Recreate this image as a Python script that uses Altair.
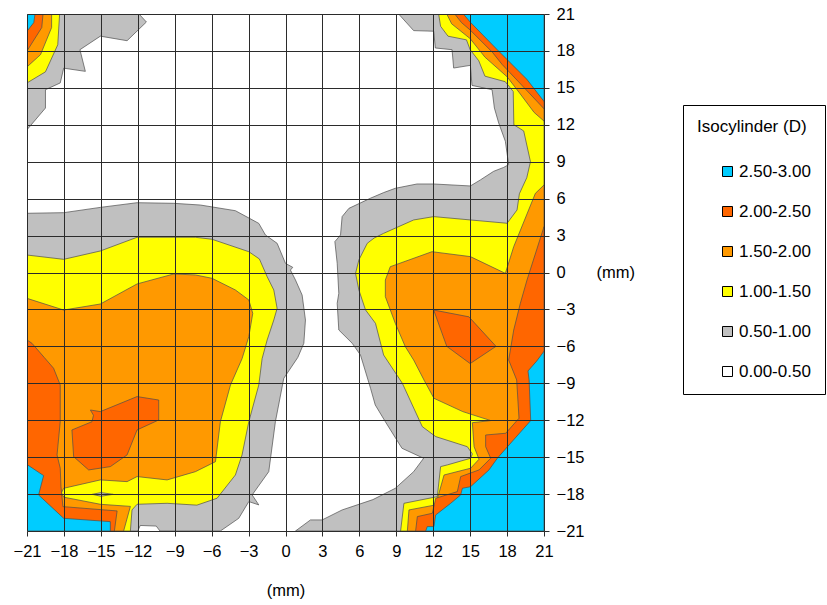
import altair as alt
import pandas as pd

# ---------------- data (mm coordinates) ----------------
LEVELS = ["2.50-3.00", "2.00-2.50", "1.50-2.00", "1.00-1.50", "0.50-1.00", "0.00-0.50"]
COLORS = ["#00ccff", "#ff6600", "#ff9900", "#ffff00", "#c0c0c0", "#ffffff"]
TICKS = list(range(-21, 22, 3))

# top-left corner bands
TL_GRAY = [(-21, 21), (-11.9, 21), (-11.3, 20.35), (-12.87, 18.83), (-15.04, 19.2), (-16.7, 18.1),
           (-16.26, 16.34), (-18.02, 16.6), (-18.3, 15.4), (-19.5, 14.85), (-19.5, 13.36), (-21, 11.6)]
TL_YELLOW = [(-21, 21), (-18.35, 21), (-18.5, 18.5), (-19.5, 16.3), (-21, 15.4)]
TL_ORANGE = [(-21, 21), (-19.0, 21), (-19.0, 19.9), (-19.9, 17.7), (-21, 16.7)]
TL_DARK = [(-21, 21), (-19.7, 21), (-19.8, 19.9), (-21, 18.0)]
TL_CYAN = [(-21, 21), (-20.35, 21), (-20.45, 20.3), (-21, 19.6)]

# left blob + bottom-left corner
LEFT_GRAY = [(-21, 4.81), (-18.02, 4.86), (-15.04, 5.29), (-12.06, 5.67), (-9.08, 5.62), (-6.91, 5.48),
             (-4.07, 5.02), (-2.17, 3.99), (-1.63, 3.05), (-0.68, 2.37), (0.0, 0.74), (0.59, 0.42),
             (0.4, 0.2), (0.81, -0.61), (1.35, -1.83), (1.62, -3.86), (1.49, -5.75), (1.0, -6.9),
             (-0.14, -8.6), (-0.82, -12.12), (-1.36, -16.18), (-2.71, -18.07), (-2.17, -18.88),
             (-2.98, -18.61), (-3.8, -19.97), (-5.29, -21), (-10.2, -21), (-10.5, -20.6),
             (-11.8, -20.55), (-12.0, -21), (-21, -21)]
LEFT_YELLOW = [(-21, 1.42), (-18.02, 1.07), (-15.04, 1.75), (-12.06, 2.86), (-9.08, 2.86), (-7.32, 2.86),
               (-5.97, 2.7), (-2.98, 1.69), (-2.12, 1.1), (-1.49, -0.34), (-0.95, -1.42), (-0.68, -2.91),
               (-0.95, -3.86), (-1.49, -5.48), (-1.9, -7.0), (-2.17, -9.14), (-2.98, -12.12),
               (-3.53, -14.82), (-4.07, -16.45), (-5.56, -18.34), (-7.2, -18.9), (-9.62, -18.75),
               (-12.06, -18.83), (-12.47, -19.29), (-12.6, -21), (-21, -21)]
LEFT_ORANGE = [(-21, -2.1), (-18.02, -3.05), (-15.04, -2.56), (-12.06, -0.93), (-9.08, -0.12),
               (-7.32, -0.2), (-5.97, -0.47), (-4.07, -1.42), (-2.98, -2.23), (-2.66, -3.32),
               (-2.98, -5.21), (-3.53, -7.0), (-4.47, -9.14), (-5.29, -12.12), (-5.69, -15.37),
               (-7.32, -16.18), (-9.62, -16.85), (-12.06, -16.58), (-12.87, -16.99), (-15.04, -16.85),
               (-18.02, -17.53), (-18.2, -17.9), (-18.02, -18.25), (-15.04, -18.83), (-12.6, -19.0),
               (-13.15, -21), (-21, -21)]
LEFT_DARK = [(-21, -5.48), (-20.6, -5.75), (-19.6, -6.9), (-18.84, -7.78), (-18.3, -9.14), (-18.3, -12.12),
             (-18.56, -14.82), (-18.3, -15.9), (-18.24, -17.4), (-18.08, -19.02), (-13.68, -19.37),
             (-13.9, -21), (-21, -21)]
LEFT_INNER_DARK = [(-17.35, -12.79), (-15.72, -12.12), (-15.6, -11.6), (-15.85, -11.17), (-15.04, -11.3),
                   (-12.06, -10.08), (-10.3, -10.36), (-10.3, -11.98), (-12.06, -12.79), (-12.87, -14.82),
                   (-14.23, -15.77), (-15.99, -16.04), (-17.21, -14.96)]
BL_CYAN = [(-21, -15.6), (-19.65, -16.5), (-20.06, -18.07), (-18.02, -19.97), (-14.23, -20.24),
           (-14.23, -21), (-21, -21)]
GRAY_SPOT = [(-15.7, -18.02), (-15.0, -17.88), (-14.0, -18.02), (-15.0, -18.18)]

# right side: top-right corner, right blob, bottom-right corner
RIGHT_GRAY = [(9.19, 21), (10.41, 19.65), (12.04, 19.6), (12.17, 18.24), (13.53, 18.1), (13.66, 16.61),
              (15.02, 16.83), (15.15, 15.2), (16.78, 14.85), (16.97, 13.36), (17.32, 12.15), (17.86, 10.66),
              (18.13, 8.76), (17.73, 8.54), (16.91, 8.22), (15.83, 7.52), (15.02, 7.03), (12.04, 7.19),
              (10.68, 7.19), (8.92, 6.84), (7.97, 6.49), (6.89, 6.03), (5.15, 5.21), (4.6, 4.54),
              (4.47, 3.05), (4.01, 2.51), (4.2, 0.75), (4.33, -1.69), (4.2, -2.5), (4.33, -4.67),
              (5.42, -5.75), (6.09, -6.7), (6.91, -9.41), (7.29, -10.76), (8.11, -12.12), (9.46, -14.28),
              (11.22, -15.09), (10.41, -16.18), (8.92, -17.53), (7.1, -18.45), (4.6, -19.29),
              (2.98, -20.1), (2.03, -20.1), (0.81, -21), (21, -21), (21, 21)]
RIGHT_YELLOW = [(12.44, 21), (12.6, 20.0), (13.2, 19.2), (14.7, 18.9), (15.0, 18.1), (15.7, 17.2),
                (16.2, 15.95), (17.85, 15.5), (18.5, 14.7), (18.55, 12.0), (19.35, 11.5), (19.9, 9.0),
                (19.6, 7.7), (19.0, 6.4), (18.81, 5.08), (18.0, 4.0), (15.02, 4.27), (12.04, 4.54),
                (10.41, 4.27), (7.97, 3.18), (7.2, 2.8), (6.64, 2.37), (5.96, 1.02), (5.69, -0.07),
                (5.96, -1.42), (6.5, -3.04), (7.31, -4.13), (7.97, -6.7), (9.49, -9.0), (11.11, -12.52),
                (12.2, -13.33), (14.77, -14.15), (15.18, -14.74), (15.04, -15.09), (13.15, -15.63),
                (12.6, -15.77), (12.33, -18.21), (9.62, -18.75), (9.35, -21), (21, -21), (21, 21)]
TR_ORANGE = [(13.1, 21), (13.5, 20.2), (15.0, 19.0), (16.2, 17.5), (18.0, 15.9), (19.0, 14.6),
             (20.2, 13.0), (21, 12.3), (21, 21)]
TR_DARK = [(13.75, 21), (14.3, 20.3), (15.0, 19.7), (16.8, 17.9), (17.6, 16.9), (19.4, 15.0),
           (21, 13.3), (21, 21)]
TR_CYAN = [(14.45, 21), (15.0, 20.35), (17.2, 18.1), (18.0, 17.3), (19.6, 15.7), (21, 13.9), (21, 21)]
RIGHT_ORANGE = [(21, 7.11), (20.3, 6.43), (18.54, 2.1), (17.86, -0.07), (15.02, 1.29), (11.9, 1.69),
                (8.51, 0.47), (8.11, -0.61), (8.11, -1.96), (8.92, -4.13), (9.73, -6.02), (10.41, -7.11),
                (11.25, -8.73), (12.06, -10.22), (14.4, -11.3), (16.67, -12.03), (15.18, -12.2),
                (15.32, -14.15), (15.72, -15.17), (15.04, -15.9), (12.88, -16.45), (12.2, -18.88),
                (10.03, -19.29), (9.9, -21), (21, -21)]
RIGHT_DIAMOND = [(12.04, -3.05), (14.9, -3.6), (17.1, -6.0), (15.0, -7.4), (13.1, -6.0)]
RIGHT_DARK = [(21, 3.72), (19.62, -0.61), (19.08, -2.5), (18.54, -4.67), (18.13, -7.11), (18.78, -8.73),
              (18.97, -11.84), (17.89, -13.06), (16.26, -13.2), (16.26, -14.15), (16.67, -15.09),
              (15.72, -16.04), (14.23, -16.58), (13.96, -17.8), (12.2, -18.34), (11.93, -19.56),
              (10.71, -19.83), (10.57, -21), (21, -21)]
BR_CYAN = [(21, -6.4), (20.4, -7.2), (19.7, -8.0), (19.79, -8.73), (19.92, -12.03), (18.16, -14.01),
           (17.21, -15.09), (16.53, -16.04), (15.04, -17.4), (14.37, -17.53), (14.23, -18.07),
           (13.42, -18.75), (12.2, -19.7), (12.06, -20.64), (11.52, -20.64), (11.39, -21), (21, -21)]

# (name, class, drawing layer, outline)
POLYGONS = [
    ("TL_GRAY", "0.50-1.00", 1, TL_GRAY),
    ("LEFT_GRAY", "0.50-1.00", 1, LEFT_GRAY),
    ("RIGHT_GRAY", "0.50-1.00", 1, RIGHT_GRAY),
    ("TL_YELLOW", "1.00-1.50", 2, TL_YELLOW),
    ("LEFT_YELLOW", "1.00-1.50", 2, LEFT_YELLOW),
    ("RIGHT_YELLOW", "1.00-1.50", 2, RIGHT_YELLOW),
    ("TL_ORANGE", "1.50-2.00", 3, TL_ORANGE),
    ("LEFT_ORANGE", "1.50-2.00", 3, LEFT_ORANGE),
    ("TR_ORANGE", "1.50-2.00", 3, TR_ORANGE),
    ("RIGHT_ORANGE", "1.50-2.00", 3, RIGHT_ORANGE),
    ("TL_DARK", "2.00-2.50", 4, TL_DARK),
    ("LEFT_DARK", "2.00-2.50", 4, LEFT_DARK),
    ("LEFT_INNER_DARK", "2.00-2.50", 4, LEFT_INNER_DARK),
    ("TR_DARK", "2.00-2.50", 4, TR_DARK),
    ("RIGHT_DIAMOND", "2.00-2.50", 4, RIGHT_DIAMOND),
    ("RIGHT_DARK", "2.00-2.50", 4, RIGHT_DARK),
    ("TL_CYAN", "2.50-3.00", 5, TL_CYAN),
    ("BL_CYAN", "2.50-3.00", 5, BL_CYAN),
    ("TR_CYAN", "2.50-3.00", 5, TR_CYAN),
    ("BR_CYAN", "2.50-3.00", 5, BR_CYAN),
    ("GRAY_SPOT", "0.50-1.00", 6, GRAY_SPOT),
]

rows = []
for pid, level, z, pts in POLYGONS:
    closed = list(pts) + [pts[0]]
    for i, (x, y) in enumerate(closed):
        rows.append({"pid": pid, "level": level, "z": z, "i": i, "x": x, "y": y})
df = pd.DataFrame(rows)

# ---------------- chart ----------------
FONT = "Liberation Sans"
x_scale = alt.Scale(domain=[-21, 21], nice=False, zero=False)
y_scale = alt.Scale(domain=[-21, 21], nice=False, zero=False)
color_scale = alt.Scale(domain=LEVELS, range=COLORS)

x_axis = alt.Axis(values=TICKS, grid=True, gridColor="#2b2b2b", gridWidth=1, gridOpacity=1,
                  domain=False, ticks=True, tickSize=5, tickColor="#2b2b2b", labelFontSize=16.5,
                  labelColor="black", labelPadding=7, labelFont=FONT, labelFlush=False,
                  labelOverlap=False, title="(mm)", titleFont=FONT, titleFontSize=16.5,
                  titleFontWeight="normal", titleColor="black", titlePadding=23, zindex=1)
y_axis = alt.Axis(values=TICKS, orient="right", grid=True, gridColor="#2b2b2b", gridWidth=1,
                  gridOpacity=1, domain=False, ticks=True, tickSize=5, tickColor="#2b2b2b",
                  labelFontSize=16.5, labelColor="black", labelPadding=7, labelFont=FONT,
                  labelFlush=False, labelOverlap=False, title="(mm)", titleFont=FONT,
                  titleFontSize=16.5, titleFontWeight="normal", titleColor="black", titleAngle=0,
                  titleAlign="left", titleBaseline="middle", titleX=52, titleY=258.5, zindex=1)
legend = alt.Legend(title="Isocylinder (D)", orient="none", legendX=656, legendY=91,
                    titleFont=FONT, titleFontSize=17, titleFontWeight="normal", titleColor="black",
                    titlePadding=27, labelFont=FONT, labelFontSize=17, labelColor="black",
                    labelOffset=3, symbolType="square", symbolSize=100, symbolStrokeColor="black",
                    symbolStrokeWidth=1, symbolOffset=22, rowPadding=22, padding=14,
                    strokeColor="black", fillColor="white", values=LEVELS)

layers = []
for z in [1, 2, 3, 4, 5, 6]:
    layers.append(
        alt.Chart(df)
        .transform_filter(alt.datum.z == z)
        .mark_line(filled=True, stroke="#4d4d4d", strokeWidth=0.7, strokeJoin="round",
                   opacity=1, clip=True)
        .encode(
            x=alt.X("x:Q", scale=x_scale, axis=x_axis),
            y=alt.Y("y:Q", scale=y_scale, axis=y_axis),
            color=alt.Color("level:N", scale=color_scale, legend=legend),
            detail="pid:N",
            order=alt.Order("i:Q"),
        )
    )

chart = (
    alt.layer(*layers)
    .properties(width=517, height=517,
                padding={"left": 27, "top": 14, "right": 283, "bottom": 74},
                autosize=alt.AutoSizeParams(type="none"), background="white")
    .configure_view(stroke=None)
    .configure(font=FONT)
)

chart.save("out.html", embed_options={"renderer": "svg", "actions": False})
